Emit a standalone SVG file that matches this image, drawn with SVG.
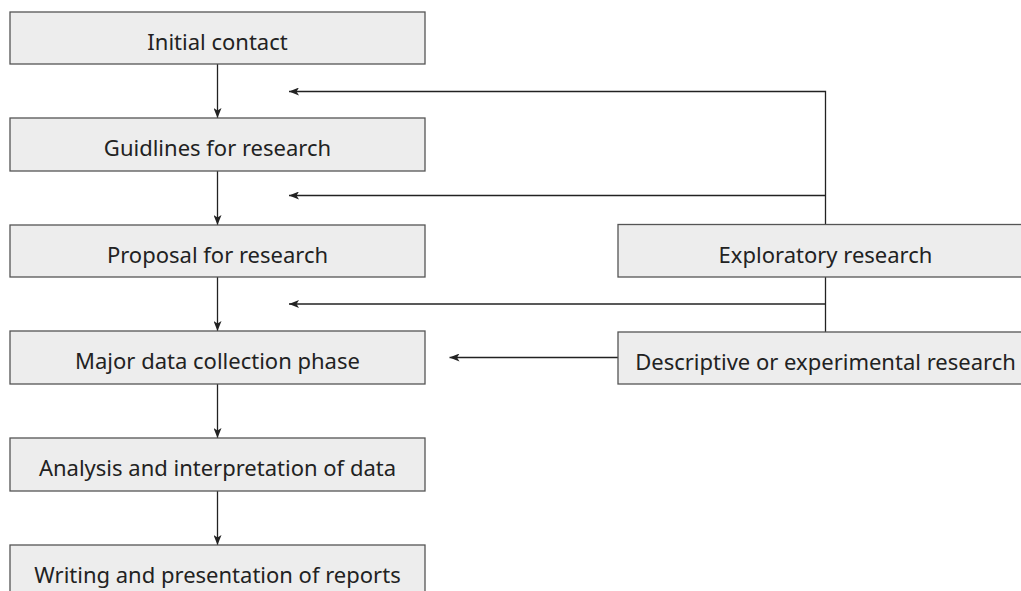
<svg xmlns="http://www.w3.org/2000/svg" width="1021" height="591" viewBox="0 0 1021 591">
<defs>
<style>
.box{fill:#ededed;stroke:#555;stroke-width:1.3}
.lbl{font-family:"Noto Sans","Open Sans","Liberation Sans",sans-serif;font-size:22px;fill:#222;text-anchor:middle}
.ln{fill:none;stroke:#222;stroke-width:1.3}
</style>
<marker id="ah" viewBox="0 0 10 8" refX="10" refY="4" markerWidth="10" markerHeight="8" markerUnits="userSpaceOnUse" orient="auto">
<path d="M0,0 L10,4 L0,8 L2.5,4 Z" fill="#222"/>
</marker>
</defs>
<rect width="1021" height="591" fill="#fff"/>
<g id="connectors">
<line class="ln" x1="217.5" y1="64" x2="217.5" y2="118" marker-end="url(#ah)"/>
<line class="ln" x1="217.5" y1="171" x2="217.5" y2="225" marker-end="url(#ah)"/>
<line class="ln" x1="217.5" y1="277" x2="217.5" y2="331" marker-end="url(#ah)"/>
<line class="ln" x1="217.5" y1="384" x2="217.5" y2="438" marker-end="url(#ah)"/>
<line class="ln" x1="217.5" y1="491" x2="217.5" y2="545" marker-end="url(#ah)"/>
<path class="ln" d="M825.5,224 V91.5 H289" marker-end="url(#ah)"/>
<line class="ln" x1="825.5" y1="195.5" x2="289" y2="195.5" marker-end="url(#ah)"/>
<path class="ln" d="M825.5,277 V332"/>
<line class="ln" x1="825.5" y1="304" x2="289" y2="304" marker-end="url(#ah)"/>
<line class="ln" x1="618" y1="357.5" x2="449.5" y2="357.5" marker-end="url(#ah)"/>
</g>
<g id="n1"><rect class="box" x="10" y="12" width="415" height="52"/><text class="lbl" x="217.5" y="50">Initial contact</text></g>
<g id="n2"><rect class="box" x="10" y="118" width="415" height="53"/><text class="lbl" x="217.5" y="156">Guidlines for research</text></g>
<g id="n3"><rect class="box" x="10" y="225" width="415" height="52"/><text class="lbl" x="217.5" y="263">Proposal for research</text></g>
<g id="n4"><rect class="box" x="10" y="331" width="415" height="53"/><text class="lbl" x="217.5" y="369">Major data collection phase</text></g>
<g id="n5"><rect class="box" x="10" y="438" width="415" height="53"/><text class="lbl" x="217.5" y="476">Analysis and interpretation of data</text></g>
<g id="n6"><rect class="box" x="10" y="545" width="415" height="53"/><text class="lbl" x="217.5" y="583">Writing and presentation of reports</text></g>
<g id="n7"><rect class="box" x="618" y="224.5" width="415" height="52.5"/><text class="lbl" x="825.5" y="263">Exploratory research</text></g>
<g id="n8"><rect class="box" x="618" y="332" width="415" height="52"/><text class="lbl" x="825.5" y="370">Descriptive or experimental research</text></g>
</svg>
